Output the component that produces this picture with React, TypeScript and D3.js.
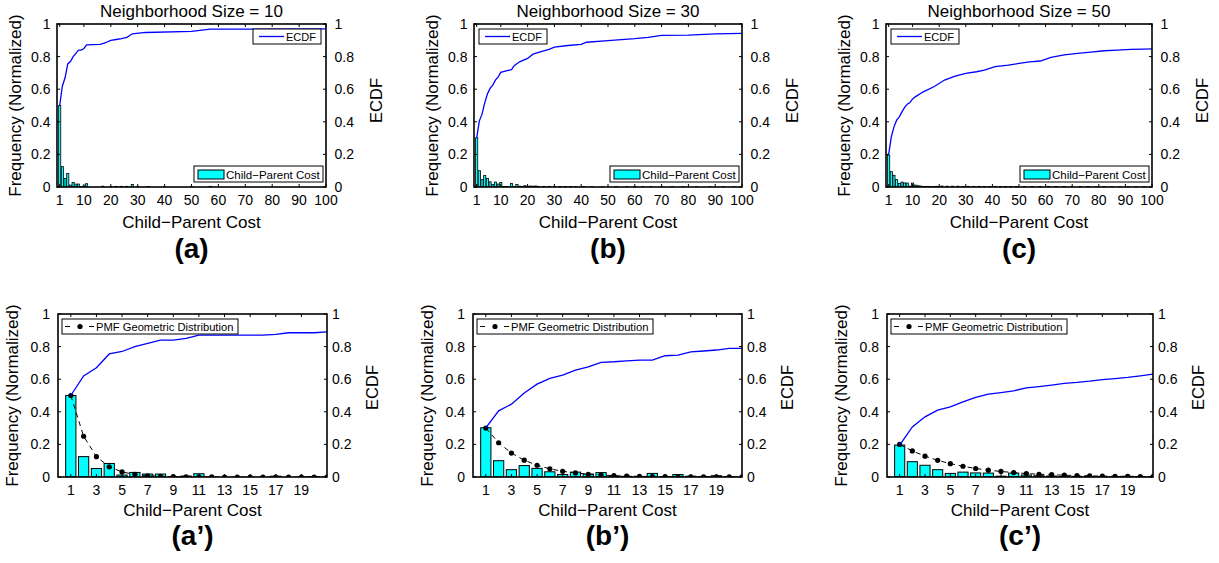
import React from 'react';
import * as d3 from 'd3';

const FONT = "'Liberation Sans', Arial, Helvetica, sans-serif";

// ---------- text / ticks ----------
const titles = ['Neighborhood Size = 10', 'Neighborhood Size = 30', 'Neighborhood Size = 50'];
const topSubLabels = ['(a)', '(b)', '(c)'];
const bottomSubLabels = ['(a\u2019)', '(b\u2019)', '(c\u2019)'];
const xLabel = 'Child\u2212Parent Cost';
const yLabel = 'Frequency (Normalized)';
const yLabelRight = 'ECDF';
const yTicks = [0, 0.2, 0.4, 0.6, 0.8, 1];
const topXTicks = [1, 10, 20, 30, 40, 50, 60, 70, 80, 90, 100];
const bottomXTicks = [1, 3, 5, 7, 9, 11, 13, 15, 17, 19];

// ---------- bottom row data (cost 1..21) ----------
const costs = [1, 2, 3, 4, 5, 6, 7, 8, 9, 10, 11, 12, 13, 14, 15, 16, 17, 18, 19, 20, 21];
const barCosts = [1, 2, 3, 4, 5, 6, 7, 8, 9, 10, 11, 12, 13, 14, 15, 16, 17, 18, 19, 20];
const barsA = [0.5, 0.125, 0.052, 0.083, 0.012, 0.028, 0.018, 0.018, 0.002, 0.006, 0.02, 0, 0, 0, 0, 0, 0.005, 0, 0, 0.003];
const barsB = [0.302, 0.1, 0.045, 0.07, 0.053, 0.032, 0.015, 0.03, 0.018, 0.027, 0.003, 0.004, 0.002, 0.022, 0.003, 0.015, 0.005, 0.003, 0.008, 0.003];
const barsC = [0.196, 0.094, 0.072, 0.045, 0.022, 0.03, 0.025, 0.024, 0.005, 0.024, 0.012, 0.008, 0.006, 0.003, 0.004, 0.003, 0.002, 0.002, 0.004, 0.003];
const pmfA = [0.5, 0.25, 0.125, 0.0625, 0.031, 0.0156, 0.0078, 0.0039, 0.002, 0.001, 0.0005, 0.0002, 0.0001, 0, 0, 0, 0, 0, 0, 0, 0];
const pmfB = [0.3, 0.21, 0.147, 0.103, 0.072, 0.05, 0.035, 0.025, 0.017, 0.012, 0.0085, 0.006, 0.0042, 0.0029, 0.002, 0.0014, 0.001, 0.0007, 0.0005, 0.0003, 0.0002];
const pmfC = [0.2, 0.16, 0.128, 0.102, 0.082, 0.066, 0.052, 0.042, 0.034, 0.027, 0.021, 0.017, 0.014, 0.011, 0.0088, 0.007, 0.0056, 0.0045, 0.0036, 0.0029, 0.0023];
const ecdfA = [0.5, 0.62, 0.67, 0.755, 0.77, 0.8, 0.82, 0.84, 0.84, 0.85, 0.87, 0.87, 0.87, 0.87, 0.87, 0.87, 0.875, 0.885, 0.885, 0.885, 0.89];
const ecdfB = [0.301, 0.406, 0.447, 0.516, 0.57, 0.605, 0.625, 0.656, 0.676, 0.703, 0.707, 0.713, 0.717, 0.717, 0.744, 0.748, 0.768, 0.773, 0.779, 0.789, 0.789];
const ecdfC = [0.195, 0.307, 0.369, 0.41, 0.43, 0.461, 0.488, 0.508, 0.518, 0.529, 0.547, 0.555, 0.564, 0.574, 0.58, 0.588, 0.598, 0.604, 0.611, 0.621, 0.631];

// ---------- top row tails (cost > 20) ----------
const tailCostA = [22, 24, 26, 28, 30, 34, 40, 50, 57];
const tailFreqA = [0.004, 0.004, 0.004, 0.015, 0.004, 0.003, 0.002, 0.003, 0.004];
const tailCostB = [21, 22, 23, 24, 26, 28, 30, 32, 34, 36, 38, 41, 44, 48, 53, 57, 60, 63, 66, 70, 74, 78, 83, 88, 93, 97];
const tailFreqB = [0.006, 0.005, 0.006, 0.004, 0.004, 0.004, 0.003, 0.003, 0.003, 0.003, 0.002, 0.003, 0.002, 0.002, 0.002, 0.002, 0.003, 0.002, 0.002, 0.002, 0.002, 0.002, 0.002, 0.002, 0.002, 0.002];
const tailCostC = [21, 23, 25, 27, 29, 31, 33, 35, 37, 39, 41, 43, 45, 47, 49, 52, 55, 58, 61, 64, 67, 70, 73, 76, 79, 82, 85, 88, 91, 94, 97, 100];
const tailFreqC = [0.006, 0.005, 0.005, 0.005, 0.004, 0.004, 0.004, 0.004, 0.004, 0.003, 0.004, 0.003, 0.003, 0.003, 0.003, 0.003, 0.003, 0.003, 0.004, 0.003, 0.003, 0.003, 0.003, 0.003, 0.002, 0.003, 0.002, 0.002, 0.002, 0.002, 0.002, 0.002];

// ---------- top row ECDF ----------
const topEcdfCostA = [1, 2, 3, 4, 5, 6, 7, 8, 9, 10, 11, 16, 17, 18, 20, 22, 24, 26, 28, 33, 50, 57, 100];
const topEcdfA = [0.5, 0.62, 0.67, 0.755, 0.77, 0.8, 0.82, 0.84, 0.84, 0.85, 0.872, 0.875, 0.88, 0.885, 0.9, 0.905, 0.91, 0.918, 0.94, 0.948, 0.955, 0.968, 0.97];
const topEcdfCostB = [1, 2, 3, 4, 5, 6, 7, 8, 9, 10, 12, 14, 15, 17, 20, 22, 25, 28, 30, 35, 40, 42, 50, 60, 65, 70, 80, 90, 100];
const topEcdfB = [0.3, 0.406, 0.447, 0.516, 0.57, 0.605, 0.625, 0.656, 0.676, 0.703, 0.713, 0.72, 0.744, 0.768, 0.789, 0.815, 0.83, 0.845, 0.858, 0.868, 0.875, 0.888, 0.898, 0.91, 0.918, 0.93, 0.932, 0.94, 0.942];
const topEcdfCostC = [1, 2, 3, 4, 5, 6, 7, 8, 9, 10, 11, 14, 18, 22, 26, 30, 34, 37, 41, 46, 50, 54, 58, 62, 67, 72, 77, 82, 87, 92, 97, 100];
const topEcdfC = [0.2, 0.307, 0.369, 0.41, 0.43, 0.461, 0.488, 0.508, 0.518, 0.54, 0.553, 0.584, 0.615, 0.656, 0.68, 0.697, 0.707, 0.717, 0.738, 0.748, 0.758, 0.768, 0.773, 0.795, 0.81, 0.82, 0.828, 0.836, 0.84, 0.844, 0.846, 0.848];

type Box = { l: number; r: number; t: number; b: number };

interface PanelProps {
  id: string;
  box: Box;
  top: boolean;
  xDomain: [number, number];
  xTicks: number[];
  barCost: number[];
  barFreq: number[];
  ecdfCost: number[];
  ecdfVal: number[];
  pmfCost?: number[];
  pmfVal?: number[];
  title?: string;
  sub: string;
  ecdfLegendRight?: boolean;
}

function Panel(p: PanelProps) {
  const { box, top } = p;
  const x = d3.scaleLinear().domain(p.xDomain).range([box.l, box.r]);
  const y = d3.scaleLinear().domain([0, 1]).range([box.b, box.t]);
  const line = d3.line<[number, number]>().x((d) => x(d[0])).y((d) => y(d[1]));
  const cx = (box.l + box.r) / 2;
  const cy = (box.t + box.b) / 2;
  const leftOff = top ? 6.5 : 8;
  const rightOff = top ? 8.5 : 5;
  const yLabOff = top ? 42 : 46;
  const ecdfLabOff = top ? 50 : 45;
  const ecdfLabDy = top ? -5 : -8;
  const xLabBase = top ? 41 : 39;
  const subBase = top ? 258 : 545;
  const tl = 3;
  const ecdfPts: [number, number][] = p.ecdfCost.map((c, i) => [c, p.ecdfVal[i]]);
  const pmfPts: [number, number][] = p.pmfCost ? p.pmfCost.map((c, i) => [c, p.pmfVal![i]]) : [];
  const barStroke = top ? 0.8 : 1;

  // legends
  const eW = 68, eH = 15;
  const eX = p.ecdfLegendRight ? box.r - 5 - eW : box.l + 5;
  const eY = box.t + 5;
  const cW = 129, cH = 16;
  const cX = box.r - 3 - cW;
  const cY = box.b - 5 - cH;
  const pW = 176, pH = 15;
  const pX = box.l + 4;
  const pY = box.t + 5;

  return (
    <g fontFamily={FONT}>
      <defs>
        <clipPath id={p.id}>
          <rect x={box.l} y={box.t} width={box.r - box.l} height={box.b - box.t} />
        </clipPath>
      </defs>
      <rect x={box.l} y={box.t} width={box.r - box.l} height={box.b - box.t} fill="#fff" />
      <g clipPath={`url(#${p.id})`}>
        {p.barCost.map((c, i) =>
          p.barFreq[i] > 0 ? (
            <rect
              key={i}
              x={x(c - 0.4)}
              y={y(p.barFreq[i])}
              width={x(c + 0.4) - x(c - 0.4)}
              height={y(0) - y(p.barFreq[i])}
              fill="#00ffff"
              stroke="#000"
              strokeWidth={barStroke}
            />
          ) : null
        )}
        {pmfPts.length > 0 && (
          <g>
            <path d={line(pmfPts) || ''} fill="none" stroke="#000" strokeWidth={1} strokeDasharray="5,4" />
            {pmfPts.map((d, i) => (
              <circle key={i} cx={x(d[0])} cy={y(d[1])} r={2.6} fill="#000" />
            ))}
          </g>
        )}
        <path d={line(ecdfPts) || ''} fill="none" stroke="#0000ff" strokeWidth={1.3} />
      </g>
      {/* ticks */}
      {yTicks.map((t) => (
        <g key={'y' + t}>
          <line x1={box.l} x2={box.l + tl} y1={y(t)} y2={y(t)} stroke="#000" strokeWidth={1} />
          <line x1={box.r} x2={box.r - tl} y1={y(t)} y2={y(t)} stroke="#000" strokeWidth={1} />
          <text x={box.l - leftOff} y={y(t)} dy="0.35em" textAnchor="end" fontSize={14}>
            {String(t)}
          </text>
          <text x={box.r + rightOff} y={y(t)} dy="0.35em" textAnchor="start" fontSize={14}>
            {String(t)}
          </text>
        </g>
      ))}
      {p.xTicks.map((t) => (
        <g key={'x' + t}>
          <line x1={x(t)} x2={x(t)} y1={box.b} y2={box.b - tl} stroke="#000" strokeWidth={1} />
          <line x1={x(t)} x2={x(t)} y1={box.t} y2={box.t + tl} stroke="#000" strokeWidth={1} />
          <text x={x(t)} y={box.b + 18} textAnchor="middle" fontSize={14}>
            {String(t)}
          </text>
        </g>
      ))}
      <rect x={box.l} y={box.t} width={box.r - box.l} height={box.b - box.t} fill="none" stroke="#000" strokeWidth={1.6} />

      {/* legends */}
      {top && (
        <g>
          <rect x={eX} y={eY} width={eW} height={eH} fill="#fff" stroke="#000" strokeWidth={1} />
          <line x1={eX + 6} x2={eX + 31} y1={eY + eH / 2} y2={eY + eH / 2} stroke="#0000ff" strokeWidth={1.3} />
          <text x={eX + 33} y={eY + 11.5} fontSize={11}>ECDF</text>
          <rect x={cX} y={cY} width={cW} height={cH} fill="#fff" stroke="#000" strokeWidth={1} />
          <rect x={cX + 4} y={cY + 4} width={26} height={9} fill="#00ffff" stroke="#000" strokeWidth={1} />
          <text x={cX + 32} y={cY + 12.5} fontSize={11.5}>{xLabel}</text>
        </g>
      )}
      {!top && (
        <g>
          <rect x={pX} y={pY} width={pW} height={pH} fill="#fff" stroke="#000" strokeWidth={1} />
          <line x1={pX + 3} x2={pX + 8} y1={pY + pH / 2} y2={pY + pH / 2} stroke="#000" strokeWidth={1} />
          <line x1={pX + 27} x2={pX + 32} y1={pY + pH / 2} y2={pY + pH / 2} stroke="#000" strokeWidth={1} />
          <circle cx={pX + 18} cy={pY + pH / 2} r={2.6} fill="#000" />
          <text x={pX + 34} y={pY + 11.5} fontSize={11.2}>PMF Geometric Distribution</text>
        </g>
      )}

      {/* labels */}
      {p.title && (
        <text x={cx} y={17} textAnchor="middle" fontSize={17}>{p.title}</text>
      )}
      <text x={cx} y={box.b + xLabBase} textAnchor="middle" fontSize={17}>{xLabel}</text>
      <text
        transform={`translate(${box.l - yLabOff},${cy}) rotate(-90)`}
        dy="0.35em"
        textAnchor="middle"
        fontSize={17}
      >
        {yLabel}
      </text>
      <text
        transform={`translate(${box.r + ecdfLabOff},${cy + ecdfLabDy}) rotate(-90)`}
        dy="0.35em"
        textAnchor="middle"
        fontSize={16.5}
      >
        {yLabelRight}
      </text>
      <text x={cx} y={subBase} textAnchor="middle" fontSize={28} fontWeight="bold">{p.sub}</text>
    </g>
  );
}

const topBoxes: Box[] = [
  { l: 57, r: 326, t: 24, b: 187 },
  { l: 474, r: 742, t: 24, b: 187 },
  { l: 886, r: 1152, t: 24, b: 187 },
];
const bottomBoxes: Box[] = [
  { l: 58, r: 327, t: 314, b: 477 },
  { l: 473, r: 742, t: 314, b: 477 },
  { l: 887, r: 1153, t: 314, b: 477 },
];

export default function App() {
  const bottomBars = [barsA, barsB, barsC];
  const pmfs = [pmfA, pmfB, pmfC];
  const ecdfs = [ecdfA, ecdfB, ecdfC];
  const tailCosts = [tailCostA, tailCostB, tailCostC];
  const tailFreqs = [tailFreqA, tailFreqB, tailFreqC];
  const topEcdfCosts = [topEcdfCostA, topEcdfCostB, topEcdfCostC];
  const topEcdfs = [topEcdfA, topEcdfB, topEcdfC];
  return (
    <svg
      width={1219}
      height={563}
      style={{ position: 'absolute', left: 0, top: 0, background: '#fff' }}
    >
      <rect x={0} y={0} width={1219} height={563} fill="#fff" />
      {topBoxes.map((box, i) => (
        <Panel
          key={'t' + i}
          id={'clipT' + i}
          box={box}
          top={true}
          xDomain={[0, 100]}
          xTicks={topXTicks}
          barCost={barCosts.concat(tailCosts[i])}
          barFreq={bottomBars[i].concat(tailFreqs[i])}
          ecdfCost={topEcdfCosts[i]}
          ecdfVal={topEcdfs[i]}
          title={titles[i]}
          sub={topSubLabels[i]}
          ecdfLegendRight={i === 0}
        />
      ))}
      {bottomBoxes.map((box, i) => (
        <Panel
          key={'b' + i}
          id={'clipB' + i}
          box={box}
          top={false}
          xDomain={[0, 21]}
          xTicks={bottomXTicks}
          barCost={barCosts}
          barFreq={bottomBars[i]}
          ecdfCost={costs}
          ecdfVal={ecdfs[i]}
          pmfCost={costs}
          pmfVal={pmfs[i]}
          sub={bottomSubLabels[i]}
        />
      ))}
    </svg>
  );
}
